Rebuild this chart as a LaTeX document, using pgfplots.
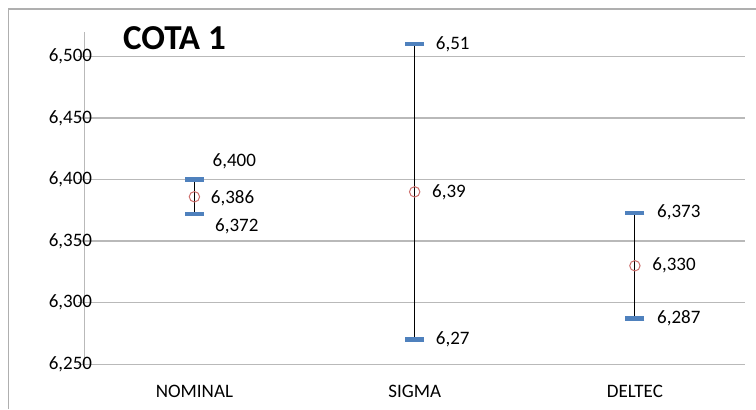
\documentclass[border=0pt]{standalone}
\usepackage{fontspec}
\setmainfont{Carlito}
\usepackage{pgfplots}
\pgfplotsset{compat=1.18}
\usepackage{pgfplotstable}
\definecolor{xlblue}{RGB}{79,129,189}
\definecolor{xlred}{RGB}{205,110,108}
\definecolor{gridgray}{RGB}{185,185,185}
\definecolor{bordergray}{RGB}{175,175,175}
\newcommand\lbl{\fontsize{19bp}{22bp}\selectfont}

\pgfplotstableread{
x y lab dx dy
0 6.400 6,400 16 18
1 6.51 6,51 19 0
2 6.373 6,373 20 0
}\high
\pgfplotstableread{
x y lab dx dy
0 6.372 6,372 18.5 -12
1 6.27 6,27 19 0
2 6.287 6,287 20 0
}\low
\pgfplotstableread{
x y lab dx dy
0 6.386 6,386 16 -1.5
1 6.39 6,39 17 0
2 6.330 6,330 17 0
}\mean

\begin{document}
\begin{tikzpicture}[x=1bp,y=1bp]
\useasboundingbox (0,0) rectangle (756,409);
\draw[color=bordergray, line width=1.5bp] (8.5,0) -- (8.5,400) -- (756,400);
\begin{axis}[
  at={(84.3bp,44.7bp)}, anchor=south west,
  scale only axis, width=660.7bp, height=332.6bp,
  xmin=-0.5, xmax=2.5, ymin=6.25, ymax=6.52,
  axis lines*=left,
  axis line style={gridgray, line width=1.5bp},
  clip=false,
  xtick={0,1,2},
  xticklabels={NOMINAL,SIGMA,DELTEC},
  minor xtick={-0.5,0.5,1.5,2.5},
  ytick={6.25,6.3,6.35,6.4,6.45,6.5},
  yticklabels={{6,250},{6,300},{6,350},{6,400},{6,450},{6,500}},
  tick align=outside,
  major tick length=6bp,
  minor tick length=6.5bp,
  xtick style={draw=none},
  ytick style={gridgray, line width=1.5bp},
  minor tick style={gridgray, line width=1.5bp},
  ymajorgrids,
  major grid style={gridgray, line width=1.5bp},
  yticklabel style={font=\lbl, anchor=east, inner sep=0pt, xshift=14bp},
  xticklabel style={font=\lbl, anchor=center, inner sep=0pt, yshift=-21bp},
  title={\textbf{COTA 1}},
  title style={at={(axis description cs:0.0586,0.980)}, anchor=west, inner sep=0pt, yshift=-6pt, font=\fontsize{35bp}{39bp}\selectfont},
  every node near coord/.append style={font=\lbl, anchor=west, inner sep=0pt, text=black},
]
% high-low lines
\addplot[black, line width=1.1bp] coordinates {(0,6.372) (0,6.400)};
\addplot[black, line width=1.1bp] coordinates {(1,6.27) (1,6.51)};
\addplot[black, line width=1.1bp] coordinates {(2,6.287) (2,6.373)};
% high and low bars
\addplot[only marks, mark=-, mark size=9.5bp, mark options={draw=xlblue, line width=4.5bp},
  visualization depends on={\thisrow{dx}\as\dx},
  visualization depends on={\thisrow{dy}\as\dy},
  nodes near coords, point meta=explicit symbolic,
  every node near coord/.append style={xshift=\dx bp, yshift=\dy bp}]
  table[x=x, y=y, meta=lab] {\high};
\addplot[only marks, mark=-, mark size=9.5bp, mark options={draw=xlblue, line width=4.5bp},
  visualization depends on={\thisrow{dx}\as\dx},
  visualization depends on={\thisrow{dy}\as\dy},
  nodes near coords, point meta=explicit symbolic,
  every node near coord/.append style={xshift=\dx bp, yshift=\dy bp}]
  table[x=x, y=y, meta=lab] {\low};
% mean
\addplot[only marks, mark=o, mark size=5.2bp, mark options={draw=xlred, line width=1bp},
  visualization depends on={\thisrow{dx}\as\dx},
  visualization depends on={\thisrow{dy}\as\dy},
  nodes near coords, point meta=explicit symbolic,
  every node near coord/.append style={xshift=\dx bp, yshift=\dy bp}]
  table[x=x, y=y, meta=lab] {\mean};
\end{axis}
\end{tikzpicture}
\end{document}
